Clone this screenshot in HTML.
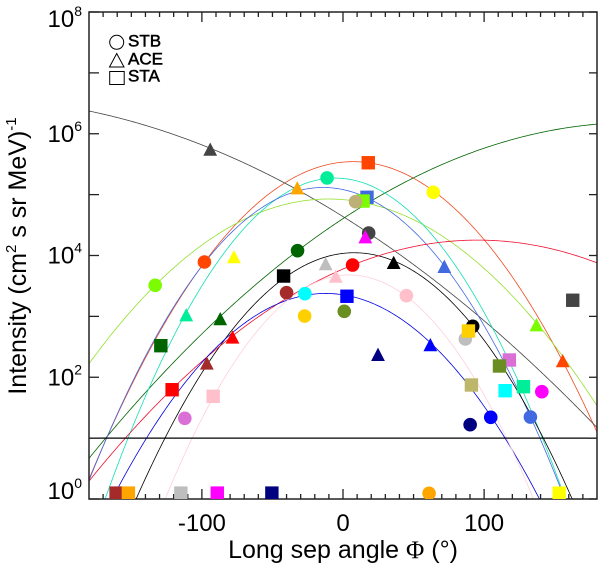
<!DOCTYPE html>
<html lang="en">
<head>
<meta charset="utf-8">
<title>Intensity vs longitudinal separation angle</title>
<style>
html,body{margin:0;padding:0;background:#fff;overflow:hidden;width:600px;height:565px;}
svg{display:block;font-family:"Liberation Sans",Arial,sans-serif;}
</style>
</head>
<body>
<svg id="chart" xmlns="http://www.w3.org/2000/svg" width="600" height="565" viewBox="0 0 600 565">
  <defs><clipPath id="plot-clip"><rect x="89" y="12" width="508" height="487"/></clipPath></defs>
  <rect x="0" y="0" width="600" height="565" fill="#fff"/>
  <g id="fit-curves" clip-path="url(#plot-clip)"></g>
  <g id="reference-line"></g>
  <g id="axes"></g>
  <g id="markers" clip-path="url(#plot-clip)"></g>
  <g id="labels"></g>
  <text x="343" y="558" font-size="25" text-anchor="middle" fill="#000">Long sep angle <tspan font-family="'Liberation Serif',serif">&#934;</tspan> (&#176;)</text>
  <text transform="translate(26,256) rotate(-90)" font-size="25" text-anchor="middle" fill="#000">Intensity (cm<tspan font-size="15" dy="-10">2</tspan><tspan dy="10"> s sr MeV)</tspan><tspan font-size="15" dy="-10">-1</tspan></text>
  <g>
    <circle cx="116.7" cy="42.3" r="7" fill="#fff" stroke="#000" stroke-width="1"/>
    <polygon points="116.7,53.5 124,67 109.5,67" fill="#fff" stroke="#000" stroke-width="1"/>
    <rect x="109.7" y="71.5" width="14.5" height="13" fill="#fff" stroke="#000" stroke-width="1"/>
    <text x="128" y="46.7" font-size="17" stroke="#000" stroke-width="0.5" fill="#000">STB</text>
    <text x="128" y="64.7" font-size="17" stroke="#000" stroke-width="0.5" fill="#000">ACE</text>
    <text x="128" y="81.7" font-size="17" stroke="#000" stroke-width="0.5" fill="#000">STA</text>
  </g>
</svg>
<script>
// Axis ticks
const xMajorTicks = [-100, 0, 100];
const xMinorTicks = [-170,-160,-150,-140,-130,-120,-110,-90,-80,-70,-60,-50,-40,-30,-20,-10,10,20,30,40,50,60,70,80,90,110,120,130,140,150,160,170];
const yTickDecades = [1, 10, 100, 1e3, 1e4, 1e5, 1e6, 1e7, 1e8];
const yLabelExponents = [0, 2, 4, 6, 8];
const backgroundLevel = 10;

// Gaussian fits: one entry per event
const fitNames = ['orangered','dimgray','darkgreen','lawngreen','springgreen','royalblue','black','red','blue','pink'];
const fitPeaks = [3.48e5, 3.89e6, 1.53e6, 8.47e4, 1.87e5, 1.31e5, 1.11e4, 1.79e4, 2.38e3, 4.79e3];
const fitCenters = [7.2, -270, 207.1, -10.2, -5.5, -14, 7.9, 95.4, -12.2, 4.5];
const fitSigmas = [38.2, 90.1, 76.8, 48.1, 33.1, 35.26, 35.8, 64.5, 38.4, 31.7];
const fitColors = ['#f04a20','#444444','#006400','#94e030','#10e0b0','#4169e1','#000000','#f01030','#0000e0','#ffd0d8'];

// Measurements in paint order
const pointSpacecraft = ['STB','STB','STB','STB','STB','STB','STB','STB','STB','STB','STB','STB','STB','STB','STB','STB','STB','STB','STB','STB',
  'STA','STA','STA','STA','STA','STA','STA','STA','STA','STA','STA','STA','STA','STA','STA','STA','STA','STA','STA','STA','STA',
  'STB',
  'ACE','ACE','ACE','ACE','ACE','ACE','ACE','ACE','ACE','ACE','ACE','ACE','ACE','ACE','ACE','ACE'];
const pointAngles = [-98.2,-11.3,-32.2,64.0,18.2,6.8,-133.1,-112.1,-40,-27,-27.2,0.9,44.9,91.9,86.7,140.9,90.1,104.7,132.8,61.0,
  17.9,17,14.2,-42.1,-129.1,-121.1,-92,2.8,88.9,91,117.9,110.9,127.9,114.9,162.8,153.2,-50.4,-89.1,-114.9,-160.8,-152.1,
  8.9,
  -94.1,-32.4,-77.3,-12.3,15.8,35.9,71.8,-111.1,-87,-78.3,-96.5,-5.1,24.8,61.9,137.1,155.7];
const pointIntensities = [7.82e3,1.88e5,1.20e4,1.09e5,2.34e4,6.98e3,3.24e3,21.2,2.45e3,2.36e3,1.01e3,1.21e3,2.19e3,687,425,57.9,16.6,22.0,22.2,1.24,
  3.34e5,9.04e4,7.85e4,4.60e3,330,62.4,48.6,2.14e3,575,74.6,192,153,70,60.1,1.84e3,1.25,1.25,1.25,1.25,1.25,1.25,
  7.65e4,
  5.51e5,1.28e5,9.45e3,7.25e3,2.01e4,7.61e3,6.55e3,1.05e3,906,453,169,4.52e3,235,339,721,185];
const pointColors = ['#ff4500','#00ee9a','#006400','#ffff00','#444444','#ff0000','#7cfc00','#da70d6','#a52a2a','#00ffff','#ffd000','#6b8e23','#ffc0cb','#000000','#bebebe','#ff00ff','#000080','#0000ff','#4169e1','#ffa500',
  '#ff4500','#4169e1','#7cfc00','#000000','#006400','#ff0000','#ffc0cb','#0000ff','#ffd000','#bdb76b','#da70d6','#6b8e23','#00ee9a','#00ffff','#444444','#ffff00','#000080','#ff00ff','#bebebe','#a52a2a','#ffa500',
  '#bdb076',
  '#444444','#ffa500','#ffff00','#bebebe','#ff00ff','#000000','#4169e1','#00ee9a','#006400','#ff0000','#a52a2a','#ffc0cb','#000080','#0000ff','#7cfc00','#ff4500'];

const NS = 'http://www.w3.org/2000/svg';
const plotLeft = 89, plotRight = 597, plotTop = 12, plotBottom = 499;
const xMin = -180, xMax = 180, yMinLog = 0, yMaxLog = 8;

function xScale(v) { return plotLeft + (v - xMin) / (xMax - xMin) * (plotRight - plotLeft); }
function yScale(v) { return plotBottom - (Math.log10(v) - yMinLog) / (yMaxLog - yMinLog) * (plotBottom - plotTop); }

function make(tag, parent, attrs) {
  const el = document.createElementNS(NS, tag);
  for (const k in attrs) el.setAttribute(k, attrs[k]);
  parent.appendChild(el);
  return el;
}

// Fit curves (held just below the axis floor so paths stay inside the frame)
const curveGroup = document.getElementById('fit-curves');
const curveFloor = 0.96;
fitNames.forEach(function (name, i) {
  let d = '';
  for (let a = xMin; a <= xMax; a += 1) {
    const v = fitPeaks[i] * Math.exp(-Math.pow(a - fitCenters[i], 2) / (2 * fitSigmas[i] * fitSigmas[i]));
    d += (a === xMin ? 'M' : 'L') + xScale(a).toFixed(2) + ' ' + yScale(Math.max(v, curveFloor)).toFixed(2);
  }
  const path = make('path', curveGroup, { d: d, fill: 'none', stroke: fitColors[i], 'stroke-width': 0.8 });
  
  
});

// Horizontal background level
const refLine = make('line', document.getElementById('reference-line'), {
  x1: plotLeft, x2: plotRight, y1: yScale(backgroundLevel), y2: yScale(backgroundLevel), stroke: '#000', 'stroke-width': 1.2
});



// Markers
const markerGroup = document.getElementById('markers');
pointAngles.forEach(function (angle, i) {
  const cx = xScale(angle), cy = yScale(pointIntensities[i]);
  const craft = pointSpacecraft[i];
  let m;
  if (craft === 'STB') {
    m = make('circle', markerGroup, { cx: cx, cy: cy, r: 6.8, fill: pointColors[i] });
  } else if (craft === 'ACE') {
    m = make('polygon', markerGroup, {
      points: cx + ',' + (cy - 7) + ' ' + (cx + 6.9) + ',' + (cy + 6.3) + ' ' + (cx - 6.9) + ',' + (cy + 6.3),
      fill: pointColors[i]
    });
  } else {
    m = make('rect', markerGroup, { x: cx - 6.7, y: cy - 6.7, width: 13.4, height: 13.4, fill: pointColors[i] });
  }
  
  
});

// Axes frame and ticks
const axisGroup = document.getElementById('axes');
const frame = make('rect', axisGroup, {
  x: plotLeft, y: plotTop, width: plotRight - plotLeft, height: plotBottom - plotTop,
  fill: 'none', stroke: '#222', 'stroke-width': 1.5
});



function tick(x1, y1, x2, y2, name) {
  const t = make('line', axisGroup, { x1: x1, y1: y1, x2: x2, y2: y2, stroke: '#222', 'stroke-width': 1.3 });
  
  
}
xMajorTicks.forEach(function (v) {
  tick(xScale(v), plotBottom, xScale(v), plotBottom - 10, 'x-major-tick-bottom');
  tick(xScale(v), plotTop, xScale(v), plotTop + 10, 'x-major-tick-top');
});
xMinorTicks.forEach(function (v) {
  tick(xScale(v), plotBottom, xScale(v), plotBottom - 5, 'x-minor-tick-bottom');
  tick(xScale(v), plotTop, xScale(v), plotTop + 5, 'x-minor-tick-top');
});
yTickDecades.forEach(function (v) {
  tick(plotLeft, yScale(v), plotLeft + 10, yScale(v), 'y-tick-left');
  tick(plotRight, yScale(v), plotRight - 8, yScale(v), 'y-tick-right');
});

// Tick labels
const labelGroup = document.getElementById('labels');
xMajorTicks.forEach(function (v) {
  const t = make('text', labelGroup, { x: xScale(v), y: 531, 'font-size': 24, 'text-anchor': 'middle', fill: '#000' });
  t.textContent = String(v);
  
  
});
// The end labels sit inside the axis range, so their baselines differ from the rest
function labelBaseline(e) {
  const tickY = yScale(Math.pow(10, e));
  if (e === yMaxLog) return tickY + 15;
  if (e === yMinLog) return tickY;
  return tickY + 8;
}
yLabelExponents.forEach(function (e) {
  const t = make('text', labelGroup, { x: 82, y: labelBaseline(e), 'font-size': 24, 'text-anchor': 'end', fill: '#000' });
  
  
  const base = make('tspan', t, {});
  base.textContent = '10';
  const sup = make('tspan', t, { 'font-size': 14, dy: -11 });
  sup.textContent = String(e);
});
</script>
</body>
</html>
